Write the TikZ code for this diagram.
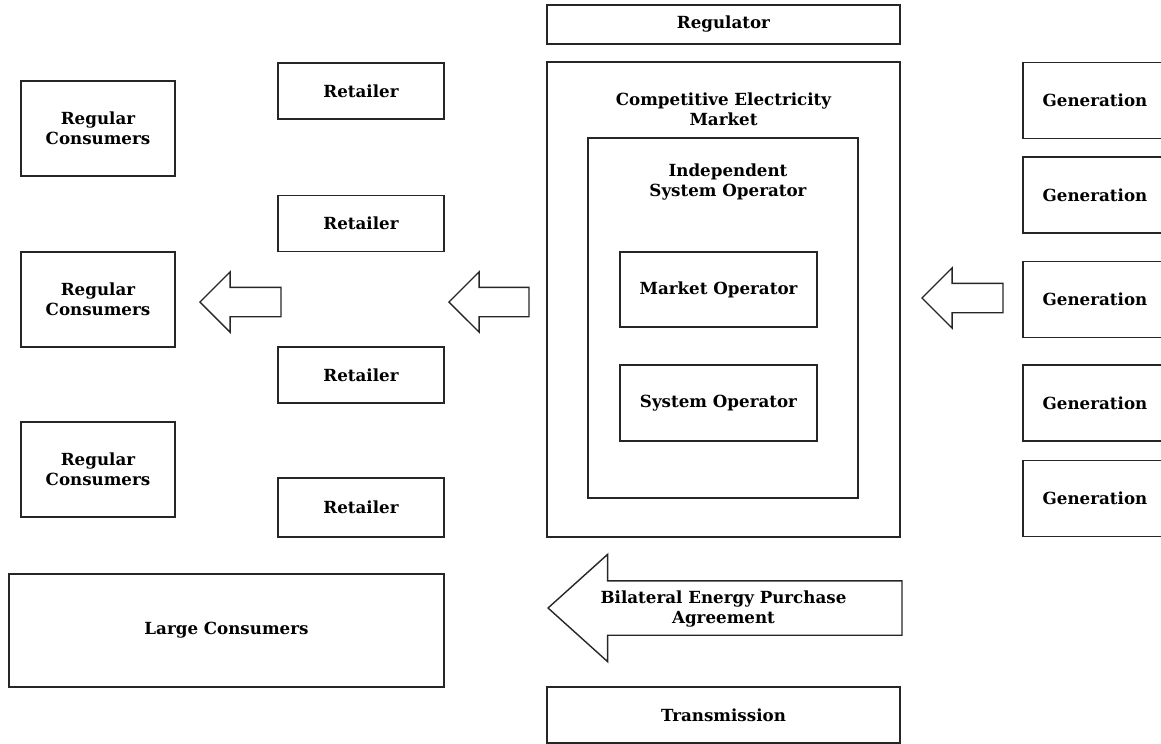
\documentclass[tikz,border=0pt]{standalone}
\usepackage{fontspec}
\setmainfont{DejaVu Serif}
\usetikzlibrary{positioning,shapes.arrows}

\tikzset{
    txt/.style={align=center, inner sep=0pt, font=\fontsize{9.5}{11.5}\selectfont\bfseries},
    block/.style={txt, rectangle, draw=black!85, line width=0.8pt},
    retailer/.style={block, minimum width=3.32cm, minimum height=1.12cm},
    consumer/.style={block, minimum width=3.08cm, minimum height=1.9cm},
    genbox/.style={block, minimum width=2.88cm, minimum height=1.52cm},
    operator/.style={block, minimum width=3.94cm, minimum height=1.5cm},
    wide/.style={block, minimum width=7.06cm},
    flow/.style={single arrow, shape border rotate=180, anchor=tip, draw=black!85, line width=0.8pt, inner sep=0pt, single arrow head indent=0pt},
    smallflow/.style={flow, minimum height=1.62cm, minimum width=1.18cm, text height=0.28cm, text depth=0.28cm, single arrow head extend=0.31cm, single arrow tip angle=90},
}

\begin{document}
\begin{tikzpicture}[x=0.02cm, y=-0.02cm]
    \useasboundingbox (0,0) rectangle (1161,744);

    % centre column
    \node (reg) [wide, minimum height=0.78cm] at (723.5,24.5) {Regulator};
    \node (cem) [wide, minimum height=9.5cm] at (723.5,299.5) {};
    \node (cemtext) [txt, below=0.62cm of cem.north] {Competitive Electricity\\Market};
    \node (iso) [block, minimum width=5.4cm, minimum height=7.2cm] at (723,318) {};
    \node (isotext) [txt, below=0.52cm of iso.north, xshift=0.1cm] {Independent\\System Operator};
    \node (mo) [operator] at (718.5,289.5) {Market Operator};
    \node (so) [operator, minimum height=1.52cm] at (718.5,403) {System Operator};
    \node (bilateral) [flow, minimum height=7.08cm, minimum width=2.12cm, text height=0.53cm, text depth=0.53cm, single arrow head extend=0.53cm, single arrow tip angle=84] at (547,608) {};
    \node (bilateraltext) [txt] at (723.5,609) {Bilateral Energy Purchase\\Agreement};
    \node (trans) [wide, minimum height=1.12cm] at (723.5,715) {Transmission};

    % generation side
    \node (gen1) [genbox] at (1095,100.5) {Generation};
    \node (gen2) [genbox] at (1095,195) {Generation};
    \node (gen3) [genbox] at (1095,299.5) {Generation};
    \node (gen4) [genbox] at (1095,403) {Generation};
    \node (gen5) [genbox] at (1095,498.5) {Generation};
    \node (genflow) [smallflow] at (921,298) {};

    % retail side
    \node (ret1) [retailer] at (361,91) {Retailer};
    \node (ret2) [retailer] at (361,223.5) {Retailer};
    \node (ret3) [retailer] at (361,375) {Retailer};
    \node (ret4) [retailer, minimum height=1.18cm] at (361,507.5) {Retailer};
    \node (retflow) [smallflow, minimum height=1.6cm] at (448,302) {};

    % consumers
    \node (rc1) [consumer] at (98,128.5) {Regular\\Consumers};
    \node (rc2) [consumer] at (98,299.5) {Regular\\Consumers};
    \node (rc3) [consumer] at (98,469.5) {Regular\\Consumers};
    \node (conflow) [smallflow] at (199,302) {};
    \node (large) [block, minimum width=8.7cm, minimum height=2.26cm] at (226.5,630.5) {Large Consumers};
\end{tikzpicture}
\end{document}
